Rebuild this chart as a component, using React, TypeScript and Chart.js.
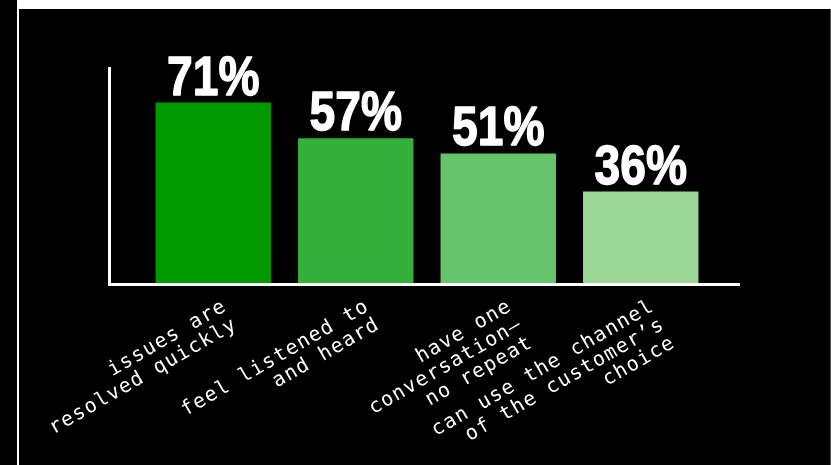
import React, { useEffect, useRef } from "react";
import { Chart, registerables } from "chart.js";

Chart.register(...registerables);

const categories: string[][] = [
  ["issues are", "resolved quickly"],
  ["feel listened to", "and heard"],
  ["have one", "conversation—", "no repeat"],
  ["can use the channel", "of the customer’s", "choice"],
];
const values: number[] = [71, 57, 51, 36];
const valueLabels: string[] = ["71%", "57%", "51%", "36%"];
const barColors: string[] = ["#009a00", "#34b03a", "#66c46a", "#9bd898"];
const yMax = 85;

const TICK_SPACING = "1.3px";

const spacingPlugin = {
  id: "letterSpacing",
  beforeUpdate(chart: any) {
    (chart.ctx as any).letterSpacing = TICK_SPACING;
  },
  beforeDraw(chart: any) {
    (chart.ctx as any).letterSpacing = TICK_SPACING;
  },
};

const axisPlugin = {
  id: "axisLines",
  afterDatasetsDraw(chart: any) {
    const { ctx, chartArea } = chart;
    ctx.save();
    (ctx as any).letterSpacing = "0px";
    ctx.fillStyle = "#ffffff";
    ctx.strokeStyle = "#ffffff";
    const x0 = chartArea.left - 34;
    const x1 = chartArea.right + 28;
    ctx.fillRect(x0, chartArea.top, 3, chartArea.bottom - chartArea.top + 3);
    ctx.fillRect(x0, chartArea.bottom, x1 - x0, 3);
    // value labels
    const meta = chart.getDatasetMeta(0);
    ctx.font = "bold 55px 'Liberation Sans', Arial, sans-serif";
    ctx.textAlign = "center";
    ctx.textBaseline = "alphabetic";
    ctx.lineWidth = 1.4;
    ctx.lineJoin = "round";
    meta.data.forEach((bar: any, i: number) => {
      ctx.save();
      ctx.translate(bar.x, bar.y - 8);
      ctx.scale(0.84, 1);
      ctx.fillText(valueLabels[i], 0, 0);
      ctx.strokeText(valueLabels[i], 0, 0);
      ctx.restore();
    });
    ctx.restore();
  },
};

export default function App() {
  const ref = useRef<HTMLCanvasElement | null>(null);

  useEffect(() => {
    if (!ref.current) return;
    const chart = new Chart(ref.current, {
      type: "bar",
      data: {
        labels: categories,
        datasets: [
          {
            data: values,
            backgroundColor: barColors,
            borderWidth: 0,
            categoryPercentage: 0.81,
            barPercentage: 1,
          },
        ],
      },
      options: {
        animation: false,
        responsive: false,
        devicePixelRatio: 1,
        layout: { padding: { left: 122, right: 118, top: 58, bottom: 0 } },
        plugins: { legend: { display: false }, tooltip: { enabled: false } },
        scales: {
          y: { display: false, min: 0, max: yMax },
          x: {
            offset: true,
            grid: { display: false, drawTicks: false },
            border: { display: false },
            afterFit: (scale: any) => {
              scale.height = 182;
              scale.paddingLeft = 0;
              scale.paddingRight = 0;
            },
            ticks: {
              color: "#ffffff",
              maxRotation: 30,
              minRotation: 30,
              autoSkip: false,
              padding: 13,
              labelOffset: 12,
              font: { family: "'DejaVu Sans Mono', 'Liberation Mono', monospace", size: 20, lineHeight: 1.05 },
            },
          },
        },
      },
      plugins: [spacingPlugin, axisPlugin],
    });
    return () => chart.destroy();
  }, []);

  return (
    <div style={{ position: "fixed", left: 0, top: 0, width: 831, height: 465, background: "#000", overflow: "hidden" }}>
      <div style={{ position: "absolute", left: 17, top: 0, width: 814, height: 9, background: "#fff" }} />
      <div style={{ position: "absolute", left: 17, top: 0, width: 2, height: 465, background: "#fff" }} />
      <div style={{ position: "absolute", left: 830, top: 9, width: 1, height: 456, background: "#555" }} />
      <canvas ref={ref} width={810} height={456} style={{ position: "absolute", left: 20, top: 9, width: 810, height: 456 }} />
    </div>
  );
}
